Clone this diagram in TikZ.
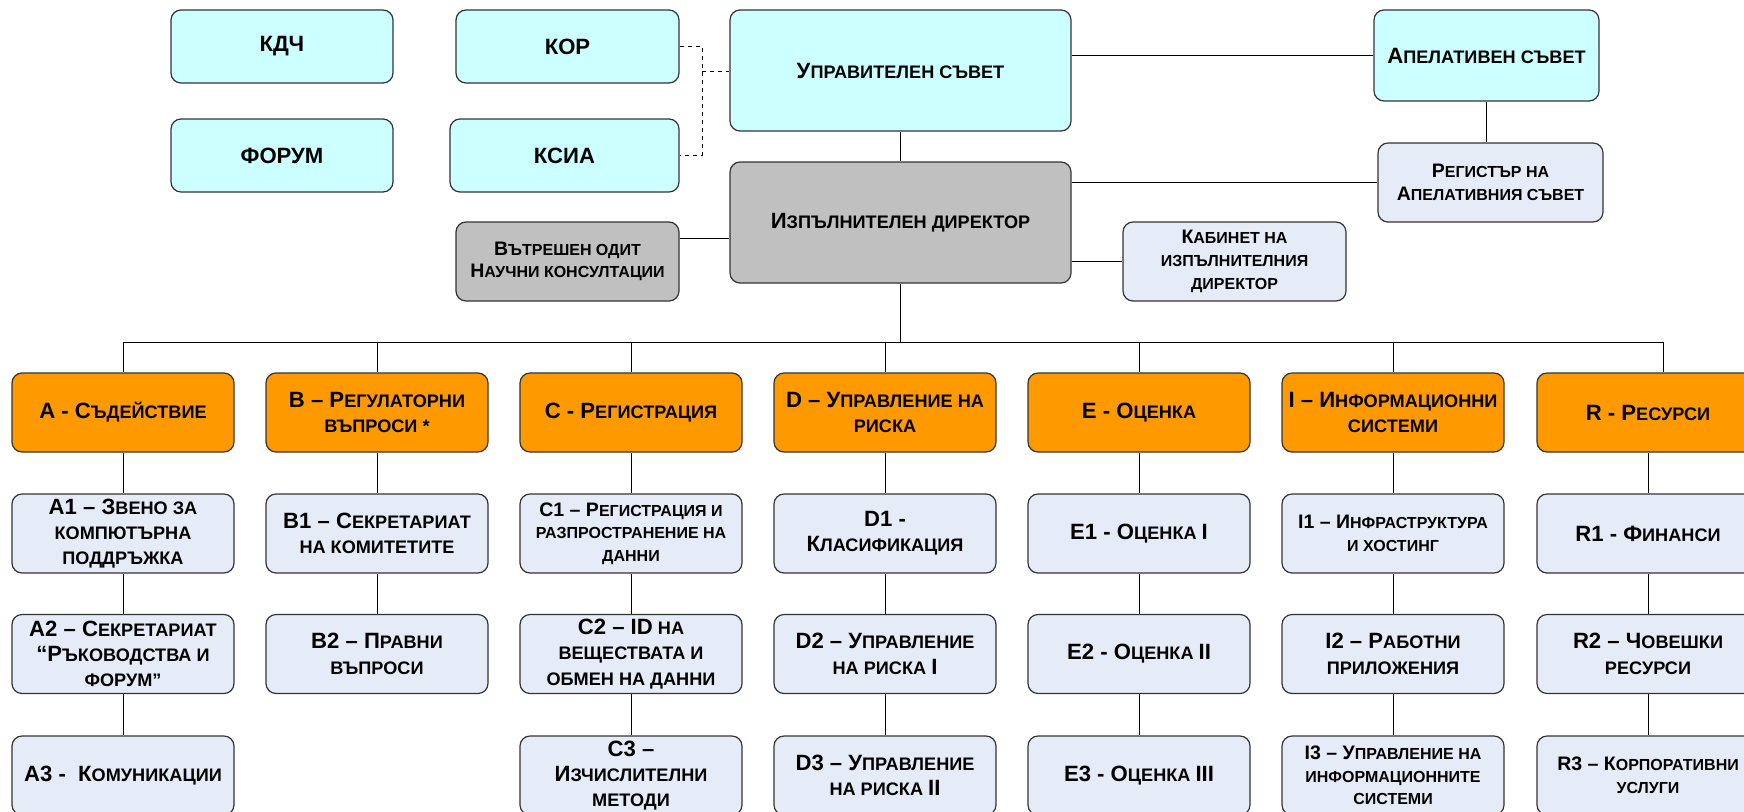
\documentclass[tikz,border=0pt]{standalone}
\usepackage{fontspec}
\setmainfont{Liberation Sans}
\usetikzlibrary{positioning,calc}
\definecolor{colorboard}    {RGB}{204,255,255}
\definecolor{colordirector} {RGB}{192,192,192}
\definecolor{colorunit}     {RGB}{230,236,247}
\definecolor{colordept}     {RGB}{255,153,0  }
\definecolor{colorline}     {RGB}{51 ,51 ,51 }
\newcommand{\bg}[1]{\scalebox{1.22}{#1}}

\begin{document}
\begin{tikzpicture}[
    x=0.75pt, y=-0.75pt,
    base/.style={text=black,font={\fontsize{13.6}{19}\selectfont\bfseries},inner sep=2pt,align=center,rectangle,
                 rounded corners=7.5pt,draw=colorline,line width=0.9pt},
    smalltxt/.style={font={\fontsize{12}{17}\selectfont\bfseries}},
    board/.style={base,fill=colorboard},
    director/.style={base,fill=colordirector},
    office/.style={base,fill=colorunit},
    dept/.style={base,fill=colordept,minimum width=166.5pt,minimum height=59.25pt},
    unit/.style={base,fill=colorunit,minimum width=166.5pt,minimum height=59.25pt},
    link/.style={draw=black,line width=0.75pt},
]
    \useasboundingbox (0,0) rectangle (1744,811);

    % Committees
    \node[board,minimum width=166.5pt,minimum height=54.75pt] at (282,46.5) (kdc) {\bg{КДЧ}};
    \node[board,minimum width=166.5pt,minimum height=54.75pt] at (282,155.5) (forum) {\bg{ФОРУМ}};
    \node[board,minimum width=167.25pt,minimum height=54.75pt] at (567.5,46.5) (kor) {\bg{КОР}};
    \node[board,minimum width=171.75pt,minimum height=54.75pt] at (564.5,155.5) (ksia) {\bg{КСИА}};

    % Board and director
    \node[board,minimum width=255.75pt,minimum height=90.75pt] at (900.5,70.5) (board) {\bg{У}ПРАВИТЕЛЕН СЪВЕТ};
    \node[director,minimum width=255.75pt,minimum height=90.75pt] at (900.5,222.5) (exec) {\bg{И}ЗПЪЛНИТЕЛЕН ДИРЕКТОР};
    \node[director,smalltxt,minimum width=167.25pt,minimum height=59.25pt] at (567.5,261.5) (audit) {\bg{В}ЪТРЕШЕН ОДИТ\\\bg{Н}АУЧНИ КОНСУЛТАЦИИ};
    \node[board,minimum width=168.75pt,minimum height=68.25pt] at (1486.5,55.5) (appeal) {\bg{А}ПЕЛАТИВЕН СЪВЕТ};
    \node[office,smalltxt,minimum width=168.75pt,minimum height=59.25pt] at (1490.5,182.5) (registry) {\bg{Р}ЕГИСТЪР НА\\\bg{А}ПЕЛАТИВНИЯ СЪВЕТ};
    \node[office,smalltxt,minimum width=167.25pt,minimum height=59.25pt] at (1234.5,261.5) (cabinet) {\bg{К}АБИНЕТ НА\\ИЗПЪЛНИТЕЛНИЯ\\ДИРЕКТОР};

    % Departments
    \node[dept] at (123,412.5) (A) {\bg{A - С}ЪДЕЙСТВИЕ};
    \node[dept] at (377,412.5) (B) {\bg{B – Р}ЕГУЛАТОРНИ\\ВЪПРОСИ *};
    \node[dept] at (631,412.5) (C) {\bg{C - Р}ЕГИСТРАЦИЯ};
    \node[dept] at (885,412.5) (D) {\bg{D – У}ПРАВЛЕНИЕ НА\\РИСКА};
    \node[dept] at (1139,412.5) (E) {\bg{E - О}ЦЕНКА};
    \node[dept] at (1393,412.5) (I) {\bg{I – И}НФОРМАЦИОННИ\\СИСТЕМИ};
    \node[dept] at (1648,412.5) (R) {\bg{R - Р}ЕСУРСИ};

    % Units
    \node[unit] at (123,533.5) (A1) {\bg{A1 – З}ВЕНО ЗА\\КОМПЮТЪРНА\\ПОДДРЪЖКА};
    \node[unit] at (123,654) (A2) {\bg{A2 – С}ЕКРЕТАРИАТ\\\bg{“Р}ЪКОВОДСТВА И\\ФОРУМ”};
    \node[unit] at (123,775.5) (A3) {\bg{A3 -\ \ К}ОМУНИКАЦИИ};
    \node[unit] at (377,533.5) (B1) {\bg{B1 – С}ЕКРЕТАРИАТ\\НА КОМИТЕТИТЕ};
    \node[unit] at (377,654) (B2) {\bg{B2 – П}РАВНИ\\ВЪПРОСИ};
    \node[unit,smalltxt] at (631,533.5) (C1) {\bg{C1 – Р}ЕГИСТРАЦИЯ И\\РАЗПРОСТРАНЕНИЕ НА\\ДАННИ};
    \node[unit] at (631,654) (C2) {\bg{C2 – ID} НА\\ВЕЩЕСТВАТА И\\ОБМЕН НА ДАННИ};
    \node[unit] at (631,775.5) (C3) {\bg{C3 –}\\\bg{И}ЗЧИСЛИТЕЛНИ\\МЕТОДИ};
    \node[unit] at (885,533.5) (D1) {\bg{D1 -}\\\bg{К}ЛАСИФИКАЦИЯ};
    \node[unit] at (885,654) (D2) {\bg{D2 – У}ПРАВЛЕНИЕ\\НА РИСКА \bg{I}};
    \node[unit] at (885,775.5) (D3) {\bg{D3 – У}ПРАВЛЕНИЕ\\НА РИСКА \bg{II}};
    \node[unit] at (1139,533.5) (E1) {\bg{E1 - О}ЦЕНКА \bg{I}};
    \node[unit] at (1139,654) (E2) {\bg{E2 - О}ЦЕНКА \bg{II}};
    \node[unit] at (1139,775.5) (E3) {\bg{E3 - О}ЦЕНКА \bg{III}};
    \node[unit,smalltxt] at (1393,533.5) (I1) {\bg{I1 – И}НФРАСТРУКТУРА\\И ХОСТИНГ};
    \node[unit] at (1393,654) (I2) {\bg{I2 – Р}АБОТНИ\\ПРИЛОЖЕНИЯ};
    \node[unit,smalltxt] at (1393,775.5) (I3) {\bg{I3 – У}ПРАВЛЕНИЕ НА\\ИНФОРМАЦИОННИТЕ\\СИСТЕМИ};
    \node[unit] at (1648,533.5) (R1) {\bg{R1 - Ф}ИНАНСИ};
    \node[unit] at (1648,654) (R2) {\bg{R2 – Ч}ОВЕШКИ\\РЕСУРСИ};
    \node[unit,smalltxt] at (1648,775.5) (R3) {\bg{R3 – К}ОРПОРАТИВНИ\\УСЛУГИ};

    % Links at the top
    \coordinate (dj) at (702,71);
    \draw[link,dashed] (kor.east) -| (dj) |- (ksia.east);
    \draw[link,dashed] (dj) -- (dj -| board.west);
    \draw[link] (appeal.west) -- (appeal.west -| board.east);
    \draw[link] (appeal.south) -- (appeal.south |- registry.north);
    \draw[link] (board.south) -- (exec.north);
    \draw[link] (registry.west) -- (registry.west -| exec.east);
    \draw[link] (cabinet.west) -- (cabinet.west -| exec.east);
    \draw[link] ([yshift=17pt]audit.east) coordinate (au) -- (au -| exec.west);

    % Bus to the departments
    \coordinate (bus) at (900.5,342);
    \draw[link] (exec.south) -- (bus);
    \draw[link] (A.north |- bus) -- ([xshift=11.25pt]R.north |- bus);
    \foreach \d in {A,B,C,D,E,I}
        \draw[link] (\d.north) -- (\d.north |- bus);
    \draw[link] ([xshift=11.25pt]R.north) -- ([xshift=11.25pt]R.north |- bus);

    % Columns
    \foreach \a/\b in {A/A1,A1/A2,A2/A3,B/B1,B1/B2,C/C1,C1/C2,C2/C3,D/D1,D1/D2,D2/D3,
                       E/E1,E1/E2,E2/E3,I/I1,I1/I2,I2/I3,R/R1,R1/R2,R2/R3}
        \draw[link] (\a.south) -- (\b.north);

\end{tikzpicture}
\end{document}
